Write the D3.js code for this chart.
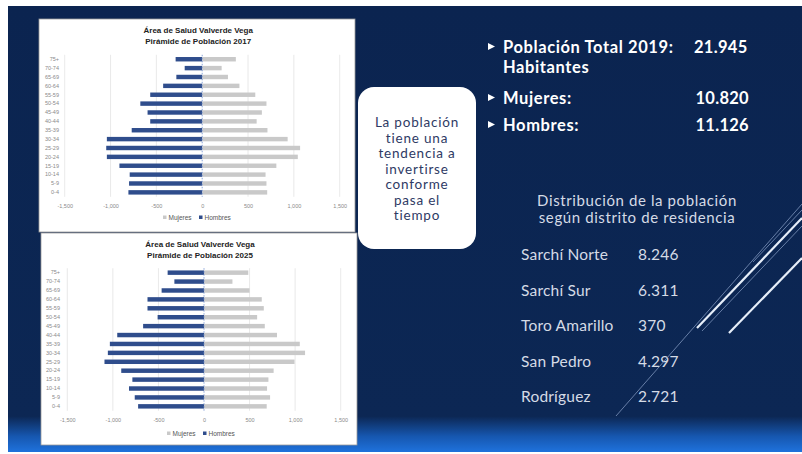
<!DOCTYPE html>
<html>
<head>
<meta charset="utf-8">
<script src="https://cdn.jsdelivr.net/npm/d3@7"></script>
<style>
  body { margin: 0; background: #fff; }
  svg { display: block; }
</style>
</head>
<body>
<div id="slide"></div>
<script>
var svgWidth = 802;
var svgHeight = 454;

// age groups, top to bottom as drawn
var ageGroups = ["75+", "70-74", "65-69", "60-64", "55-59", "50-54", "45-49", "40-44",
                 "35-39", "30-34", "25-29", "20-24", "15-19", "10-14", "5-9", "0-4"];

var hombres2017 = [290, 191, 282, 426, 567, 675, 596, 567, 769, 1040, 1047, 1040, 903, 791, 798, 805];
var mujeres2017 = [367, 212, 281, 406, 579, 701, 651, 594, 712, 932, 1068, 1043, 809, 691, 701, 709];

var hombres2025 = [399, 325, 465, 620, 620, 509, 668, 952, 1033, 1055, 1092, 908, 786, 823, 760, 723];
var mujeres2025 = [486, 312, 500, 634, 656, 583, 667, 801, 1051, 1109, 993, 764, 707, 692, 725, 688];

var xTicks = [-1500, -1000, -500, 0, 500, 1000, 1500];

var districts = ["Sarchí Norte", "Sarchí Sur", "Toro Amarillo", "San Pedro", "Rodríguez"];
var districtValues = ["8.246", "6.311", "370", "4.297", "2.721"];

var boxLines = ["La población", "tiene una", "tendencia a", "invertirse", "conforme", "pasa el", "tiempo"];

var svg = d3.select("#slide")
    .append("svg")
    .attr("width", svgWidth)
    .attr("height", svgHeight);

var defs = svg.append("defs");
var grad = defs.append("linearGradient")
    .attr("id", "bg")
    .attr("x1", 0).attr("y1", 0).attr("x2", 0).attr("y2", 1);
grad.append("stop").attr("offset", "0%").attr("stop-color", "#0b2450");
grad.append("stop").attr("offset", "92%").attr("stop-color", "#0c2754");
grad.append("stop").attr("offset", "96.5%").attr("stop-color", "#1657b0");
grad.append("stop").attr("offset", "100%").attr("stop-color", "#1f72dc");

// slide background
svg.append("rect")
    .attr("x", 8).attr("y", 6)
    .attr("width", svgWidth - 8).attr("height", svgHeight - 8)
    .attr("fill", "url(#bg)");

var tickFormat = d => (d < 0 ? "-" : "") + d3.format(",")(Math.abs(d));

function drawPyramid(cfg) {
    var g = svg.append("g");

    g.append("rect")
        .attr("x", cfg.panel[0]).attr("y", cfg.panel[1])
        .attr("width", cfg.panel[2]).attr("height", cfg.panel[3])
        .attr("fill", "#fff")
        .attr("stroke", "#9a9a9a")
        .attr("stroke-width", 0.8);

    var x = d3.scaleLinear().domain([-1500, 1500]).range(cfg.xRange);
    var y = d3.scaleBand().domain(ageGroups).range(cfg.yRange).paddingInner(0.5).paddingOuter(0.25);

    // gridlines
    g.selectAll(".grid")
        .data(xTicks.filter(d => d !== 0))
        .enter()
        .append("line")
        .attr("x1", d => x(d)).attr("x2", d => x(d))
        .attr("y1", cfg.yRange[0]).attr("y2", cfg.yRange[1])
        .attr("stroke", "#e3e3e3")
        .attr("stroke-width", 0.8);

    var bottomAxis = d3.axisBottom(x).tickValues(xTicks).tickFormat(tickFormat).tickSize(0).tickPadding(0);
    var axisG = g.append("g")
        .attr("transform", `translate(0, ${cfg.tickY})`)
        .call(bottomAxis);
    axisG.select(".domain").remove();
    axisG.selectAll("text")
        .attr("fill", "#8a8a8a")
        .attr("font-size", 5.5)
        .attr("font-family", "Liberation Sans, Arial, sans-serif");

    var leftAxis = d3.axisLeft(y).tickSize(0).tickPadding(0);
    var leftG = g.append("g")
        .attr("transform", `translate(${cfg.labelX}, 0)`)
        .call(leftAxis);
    leftG.select(".domain").remove();
    leftG.selectAll("text")
        .attr("fill", "#8a8a8a")
        .attr("font-size", 5.5)
        .attr("font-family", "Liberation Sans, Arial, sans-serif");

    g.selectAll(".hombres")
        .data(ageGroups)
        .enter()
        .append("rect")
        .attr("x", (d, i) => x(-cfg.hombres[i]))
        .attr("y", d => y(d))
        .attr("width", (d, i) => x(0) - x(-cfg.hombres[i]))
        .attr("height", y.bandwidth())
        .attr("fill", "#2f4d8c");

    g.selectAll(".mujeres")
        .data(ageGroups)
        .enter()
        .append("rect")
        .attr("x", x(0))
        .attr("y", d => y(d))
        .attr("width", (d, i) => x(cfg.mujeres[i]) - x(0))
        .attr("height", y.bandwidth())
        .attr("fill", "#c9c9c9");

    // zero line
    g.append("line")
        .attr("x1", x(0)).attr("x2", x(0))
        .attr("y1", cfg.yRange[0]).attr("y2", cfg.yRange[1])
        .attr("stroke", "#6f8fd0")
        .attr("stroke-width", 0.8)
        .attr("stroke-dasharray", "1.5,1.5");

    var cx = (cfg.xRange[0] + cfg.xRange[1]) / 2 - 4;
    cfg.title.forEach((t, i) => {
        g.append("text")
            .attr("x", cx)
            .attr("y", cfg.titleY + i * 11.3)
            .attr("text-anchor", "middle")
            .attr("font-family", "Liberation Sans, Arial, sans-serif")
            .attr("font-weight", "bold")
            .attr("font-size", 8)
            .attr("fill", "#222")
            .text(t);
    });

    // legend
    var legend = [
        { label: "Mujeres", color: "#c9c9c9" },
        { label: "Hombres", color: "#2f4d8c" }
    ];
    var lx = cfg.legendX;
    legend.forEach((d, i) => {
        var lg = g.append("g").attr("transform", `translate(${lx + i * 36}, ${cfg.legendY})`);
        lg.append("rect")
            .attr("x", 0).attr("y", -4.5)
            .attr("width", 3.5).attr("height", 3.5)
            .attr("fill", d.color);
        lg.append("text")
            .attr("x", 5.5).attr("y", 0)
            .attr("font-family", "Liberation Sans, Arial, sans-serif")
            .attr("font-size", 6.5)
            .attr("fill", "#555")
            .text(d.label);
    });
}

drawPyramid({
    panel: [39, 19, 316, 213],
    xRange: [64.7, 339.7],
    yRange: [54.8, 196.8],
    tickY: 204,
    labelX: 59,
    titleY: 33,
    title: ["Área de Salud Valverde Vega", "Pirámide de Población 2017"],
    legendX: 163,
    legendY: 220,
    hombres: hombres2017,
    mujeres: mujeres2017
});

drawPyramid({
    panel: [41, 233, 316, 212],
    xRange: [67.3, 340.7],
    yRange: [268.2, 410.8],
    tickY: 418,
    labelX: 60,
    titleY: 247,
    title: ["Área de Salud Valverde Vega", "Pirámide de Población 2025"],
    legendX: 167,
    legendY: 436,
    hombres: hombres2025,
    mujeres: mujeres2025
});

// text box
svg.append("rect")
    .attr("x", 358).attr("y", 87)
    .attr("width", 118).attr("height", 162)
    .attr("rx", 16).attr("ry", 16)
    .attr("fill", "#fff");

svg.selectAll(".boxline")
    .data(boxLines)
    .enter()
    .append("text")
    .attr("x", 417)
    .attr("y", (d, i) => 127 + i * 15.5)
    .attr("text-anchor", "middle")
    .attr("font-family", "Lato, sans-serif")
    .attr("font-size", 13.5)
    .attr("letter-spacing", 0.8)
    .attr("fill", "#2e3a64")
    .text(d => d);

// summary stats
var stats = [
    { label: "Población Total 2019:", value: "21.945", y: 53, vx: 694, anchor: "start" },
    { label: "Mujeres:", value: "10.820", y: 104, vx: 749, anchor: "end" },
    { label: "Hombres:", value: "11.126", y: 131, vx: 749, anchor: "end" }
];
stats.forEach(d => {
    svg.append("path")
        .attr("d", `M488,${d.y - 10} L495,${d.y - 6.5} L488,${d.y - 3} Z`)
        .attr("fill", "#fff");
    svg.append("text")
        .attr("x", 503).attr("y", d.y)
        .attr("font-family", "Lato, sans-serif")
        .attr("font-weight", "bold")
        .attr("font-size", 16.5)
        .attr("letter-spacing", 0.6)
        .attr("fill", "#fff")
        .text(d.label);
    svg.append("text")
        .attr("x", d.vx).attr("y", d.y)
        .attr("text-anchor", d.anchor)
        .attr("font-family", "Lato, sans-serif")
        .attr("font-weight", "bold")
        .attr("font-size", 16.5)
        .attr("letter-spacing", 0.3)
        .attr("fill", "#fff")
        .text(d.value);
});
svg.append("text")
    .attr("x", 503).attr("y", 73)
    .attr("font-family", "Lato, sans-serif")
    .attr("font-weight", "bold")
    .attr("font-size", 16.5)
    .attr("letter-spacing", 0.6)
    .attr("fill", "#fff")
    .text("Habitantes");

// district distribution
["Distribución de la población", "según distrito de residencia"].forEach((t, i) => {
    svg.append("text")
        .attr("x", 637).attr("y", 206 + i * 17)
        .attr("text-anchor", "middle")
        .attr("font-family", "Lato, sans-serif")
        .attr("font-size", 15)
        .attr("letter-spacing", 0.6)
        .attr("fill", "#d5dbe6")
        .text(t);
});

var rowY = d3.scalePoint().domain(districts).range([260, 402]);
districts.forEach((d, i) => {
    svg.append("text")
        .attr("x", 521).attr("y", rowY(d))
        .attr("font-family", "Lato, sans-serif")
        .attr("font-size", 15.5)
        .attr("letter-spacing", 0.2)
        .attr("fill", "#d5dbe6")
        .text(d);
    svg.append("text")
        .attr("x", 638).attr("y", rowY(d))
        .attr("font-family", "Lato, sans-serif")
        .attr("font-size", 15.5)
        .attr("letter-spacing", 0.2)
        .attr("fill", "#d5dbe6")
        .text(districtValues[i]);
});

// decorative diagonal lines
var deco = [
    { x1: 616, y1: 416, x2: 802, y2: 204, w: 0.8, c: "#7f95bd" },
    { x1: 753, y1: 262, x2: 802, y2: 210, w: 0.8, c: "#7f95bd" },
    { x1: 697, y1: 328, x2: 802, y2: 218, w: 2.2, c: "#e6eef9" },
    { x1: 702, y1: 331, x2: 802, y2: 226, w: 0.8, c: "#7f95bd" },
    { x1: 729, y1: 333, x2: 802, y2: 258, w: 2.2, c: "#e6eef9" }
];
svg.selectAll(".deco")
    .data(deco)
    .enter()
    .append("line")
    .attr("x1", d => d.x1).attr("y1", d => d.y1)
    .attr("x2", d => d.x2).attr("y2", d => d.y2)
    .attr("stroke", d => d.c)
    .attr("stroke-width", d => d.w);
</script>
</body>
</html>
